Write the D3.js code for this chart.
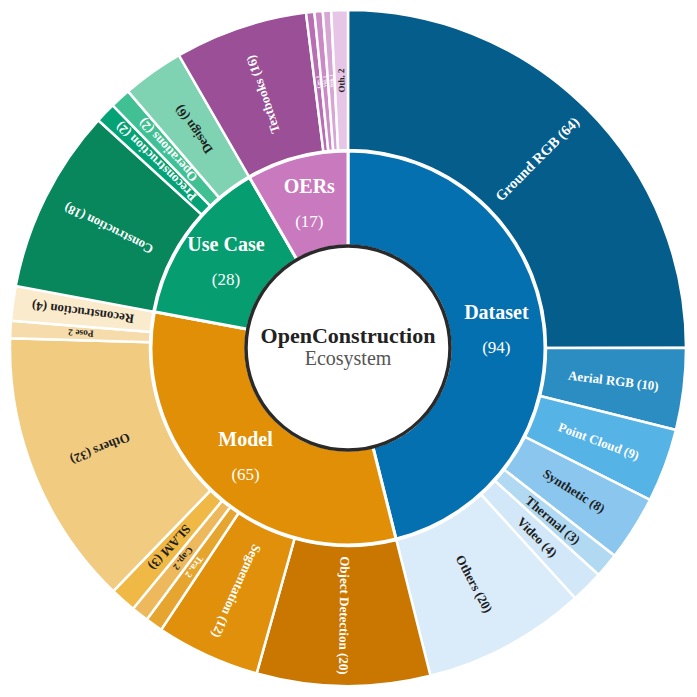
<!DOCTYPE html>
<html>
<head>
<meta charset="utf-8">
<script src="https://cdn.jsdelivr.net/npm/d3@7"></script>
<style>
  body { margin: 0; background: #fff; }
  svg text { font-family: "Liberation Serif", "Times New Roman", serif; }
</style>
</head>
<body>
<svg id="chart" width="697" height="697"></svg>
<script>
// inner ring
var groups = ["Dataset", "Model", "Use Case", "OERs"];
var groupValues = [94, 65, 28, 17];
var groupColors = ["#0570b0", "#e08f07", "#069e70", "#c979bd"];

// outer ring, one list per group
var datasetLabels = ["Ground RGB (64)", "Aerial RGB (10)", "Point Cloud (9)", "Synthetic (8)", "Thermal (3)", "Video (4)", "Others (20)"];
var datasetValues = [64, 10, 9, 8, 3, 4, 20];
var datasetColors = ["#045d8a", "#2b8dc1", "#55b3e6", "#8bc6ee", "#b1d9f2", "#d2e8f8", "#daebf9"];

var modelLabels = ["Object Detection (20)", "Segmentation (12)", "Tra. 2", "Cap. 2", "SLAM (3)", "Others (32)", "Pose 2", "Reconstruction (4)"];
var modelValues = [20, 12, 2, 2, 3, 32, 2, 4];
var modelColors = ["#c97700", "#e0900a", "#e6a52f", "#edb95c", "#f0b946", "#f0cb80", "#f5dcaa", "#fbebcd"];

var useCaseLabels = ["Construction (18)", "Preconstruction (2)", "Operations (2)", "Design (6)"];
var useCaseValues = [18, 2, 2, 6];
var useCaseColors = ["#08875c", "#04a274", "#40c093", "#7fd3b3"];

var oerLabels = ["Textbooks (16)", "Cou. 1", "Vid. 1", "Web. 1", "Oth. 2"];
var oerValues = [16, 1, 1, 1, 2];
var oerColors = ["#9a4f96", "#b86db4", "#c98ac6", "#d6a6d4", "#e6c5e6"];

var children = [
  { labels: datasetLabels, values: datasetValues, colors: datasetColors },
  { labels: modelLabels, values: modelValues, colors: modelColors },
  { labels: useCaseLabels, values: useCaseValues, colors: useCaseColors },
  { labels: oerLabels, values: oerValues, colors: oerColors }
];

var svg = d3.select("#chart"),
    width = +svg.attr("width"),
    height = +svg.attr("height");

var cx = 348, cy = 348;
var rHole = 102, rInner = 197, rOuter = 338;

var g = svg.append("g").attr("transform", "translate(" + cx + "," + cy + ")");

var innerArc = d3.arc().innerRadius(rHole).outerRadius(rInner);
var outerArc = d3.arc().innerRadius(rInner + 1).outerRadius(rOuter);

var innerPie = d3.pie().sort(null).value(function(d) { return d.value; });
var innerData = innerPie(groups.map(function(name, i) {
  return { name: name, value: groupValues[i], color: groupColors[i] };
}));

// outer slices share their parent's angle span
var outerData = [];
innerData.forEach(function(p, i) {
  var c = children[i];
  var pie = d3.pie().sort(null).value(function(d) { return d.value; })
    .startAngle(p.startAngle).endAngle(p.endAngle);
  pie(c.values.map(function(v, j) {
    return { label: c.labels[j], value: v, color: c.colors[j] };
  })).forEach(function(d) { outerData.push(d); });
});

function luminance(col) {
  var c = d3.rgb(col);
  var f = function(v) { v /= 255; return v <= 0.03928 ? v / 12.92 : Math.pow((v + 0.055) / 1.055, 2.4); };
  return 0.2126 * f(c.r) + 0.7152 * f(c.g) + 0.0722 * f(c.b);
}

g.append("g")
  .selectAll("path")
  .data(outerData)
  .enter().append("path")
  .attr("d", outerArc)
  .attr("fill", function(d) { return d.data.color; })
  .attr("stroke", "#fff")
  .attr("stroke-width", 2.5);

g.append("g")
  .selectAll("path")
  .data(innerData)
  .enter().append("path")
  .attr("d", innerArc)
  .attr("fill", function(d) { return d.data.color; })
  .attr("stroke", "#fff")
  .attr("stroke-width", 3);

// outer labels, radial, reading outward
var rMid = (rInner + rOuter) / 2;
g.append("g")
  .selectAll("text")
  .data(outerData)
  .enter().append("text")
  .attr("transform", function(d) {
    var a = (d.startAngle + d.endAngle) / 2;
    var x = rMid * Math.sin(a), y = -rMid * Math.cos(a);
    return "translate(" + x + "," + y + ") rotate(" + (a * 180 / Math.PI - 90) + ")";
  })
  .attr("text-anchor", "middle")
  .attr("dy", "0.35em")
  .attr("font-weight", "bold")
  .attr("font-size", function(d) {
    var arcLen = (d.endAngle - d.startAngle) * rMid;
    if (arcLen > 300) return "14.5px";
    // abbreviated labels (no brackets) sit in the thinnest slices
    var k = d.data.label.indexOf("(") < 0 ? 0.68 : 0.8;
    return Math.max(4.5, Math.min(13, arcLen * k)) + "px";
  })
  .attr("fill", function(d) { return luminance(d.data.color) > 0.47 ? "#1e1e1e" : "#fff"; })
  .text(function(d) { return d.data.label; });

// inner labels
var innerLabel = g.append("g")
  .selectAll("g")
  .data(innerData)
  .enter().append("g")
  .attr("transform", function(d) { return "translate(" + innerArc.centroid(d) + ")"; });

innerLabel.append("text")
  .attr("text-anchor", "middle")
  .attr("y", -18)
  .attr("dy", "0.35em")
  .attr("font-weight", "bold")
  .attr("font-size", "20px")
  .attr("fill", "#fff")
  .text(function(d) { return d.data.name; });

innerLabel.append("text")
  .attr("text-anchor", "middle")
  .attr("y", 17)
  .attr("dy", "0.35em")
  .attr("font-size", "17px")
  .attr("fill", "#fff")
  .text(function(d) { return "(" + d.data.value + ")"; });

// centre
g.append("circle")
  .attr("r", rHole)
  .attr("fill", "#fff")
  .attr("stroke", "#2a2a2a")
  .attr("stroke-width", 3.5);

g.append("text")
  .attr("text-anchor", "middle")
  .attr("y", -13)
  .attr("dy", "0.35em")
  .attr("font-weight", "bold")
  .attr("font-size", "22px")
  .attr("fill", "#222")
  .text("OpenConstruction");

g.append("text")
  .attr("text-anchor", "middle")
  .attr("y", 10)
  .attr("dy", "0.35em")
  .attr("font-size", "20px")
  .attr("fill", "#555")
  .text("Ecosystem");
</script>
</body>
</html>
